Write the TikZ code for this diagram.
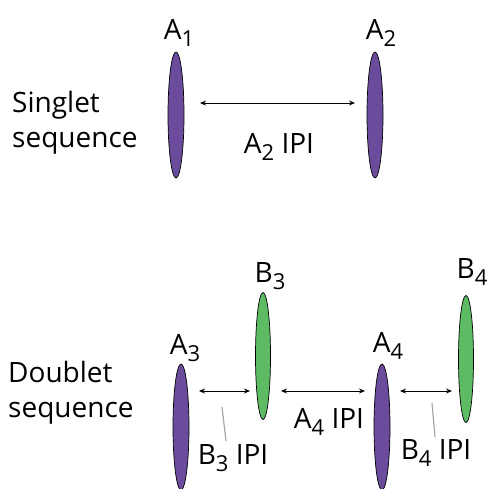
\documentclass[tikz,border=0pt]{standalone}
\usepackage{fontspec}
\setmainfont{Open Sans}
\usetikzlibrary{shapes.geometric,arrows.meta}
\newcommand{\lowsub}[1]{\raisebox{-0.25em}{\fontsize{22}{22}\selectfont #1}}
\definecolor{pulsepurple}{HTML}{6B4C9C}
\definecolor{pulsegreen}{HTML}{5DBB63}
\tikzset{
  pulseA/.style={ellipse, draw=black, line width=0.7pt, fill=pulsepurple, minimum width=16pt, minimum height=126pt, inner sep=0pt},
  pulseB/.style={ellipse, draw=black, line width=0.7pt, fill=pulsegreen, minimum width=15pt, minimum height=127pt, inner sep=0pt},
  lbl/.style={font=\fontsize{28}{35}\selectfont, inner sep=0pt},
  ipi/.style={{Stealth[length=6pt,width=5pt]}-{Stealth[length=6pt,width=5pt]}, line width=0.8pt},
  lead/.style={draw=gray!70, line width=1.2pt}
}
\begin{document}
\begin{tikzpicture}[x=1pt,y=-1pt]
\useasboundingbox (0,0) rectangle (489,489);
% singlet
\node[pulseA] (a1) at (176,115) {};
\node[pulseA] (a2) at (375,115) {};
\node[lbl] (la1) at (179,33) {A\lowsub{1}};
\node[lbl] (la2) at (381,33) {A\lowsub{2}};
\node[lbl, align=left, anchor=west] (sing) at (12,123) {Singlet\\sequence};
\coordinate (s1) at (200,103);
\coordinate (s2) at (355,103);
\draw[ipi] (s1) -- (s2);
\node[lbl] (ipia2) at (279,147) {A\lowsub{2} IPI};
% doublet
\node[pulseA] (a3) at (181,427) {};
\node[pulseB] (b3) at (263,356) {};
\node[pulseA] (a4) at (382,427) {};
\node[pulseB] (b4) at (466,359) {};
\node[lbl] (la3) at (185,348) {A\lowsub{3}};
\node[lbl] (lb3) at (270,276) {B\lowsub{3}};
\node[lbl] (la4) at (388,346) {A\lowsub{4}};
\node[lbl] (lb4) at (472,272) {B\lowsub{4}};
\node[lbl, align=left, anchor=west] (doub) at (8,393) {Doublet\\sequence};
\coordinate (d1) at (199,391);
\coordinate (d2) at (250,391);
\coordinate (d3) at (281,391);
\coordinate (d4) at (365,391);
\coordinate (d5) at (400,391);
\coordinate (d6) at (452,391);
\draw[ipi] (d1) -- (d2);
\draw[ipi] (d3) -- (d4);
\draw[ipi] (d5) -- (d6);
\node[lbl] (ipia4) at (329,422) {A\lowsub{4} IPI};
\node[lbl] (ipib3) at (233,458) {B\lowsub{3} IPI};
\node[lbl] (ipib4) at (436,453) {B\lowsub{4} IPI};
\coordinate (g1) at (222,407);
\coordinate (g2) at (226,441);
\coordinate (g3) at (432,403);
\coordinate (g4) at (435,437);
\draw[lead] (g1) -- (g2);
\draw[lead] (g3) -- (g4);
\end{tikzpicture}
\end{document}
